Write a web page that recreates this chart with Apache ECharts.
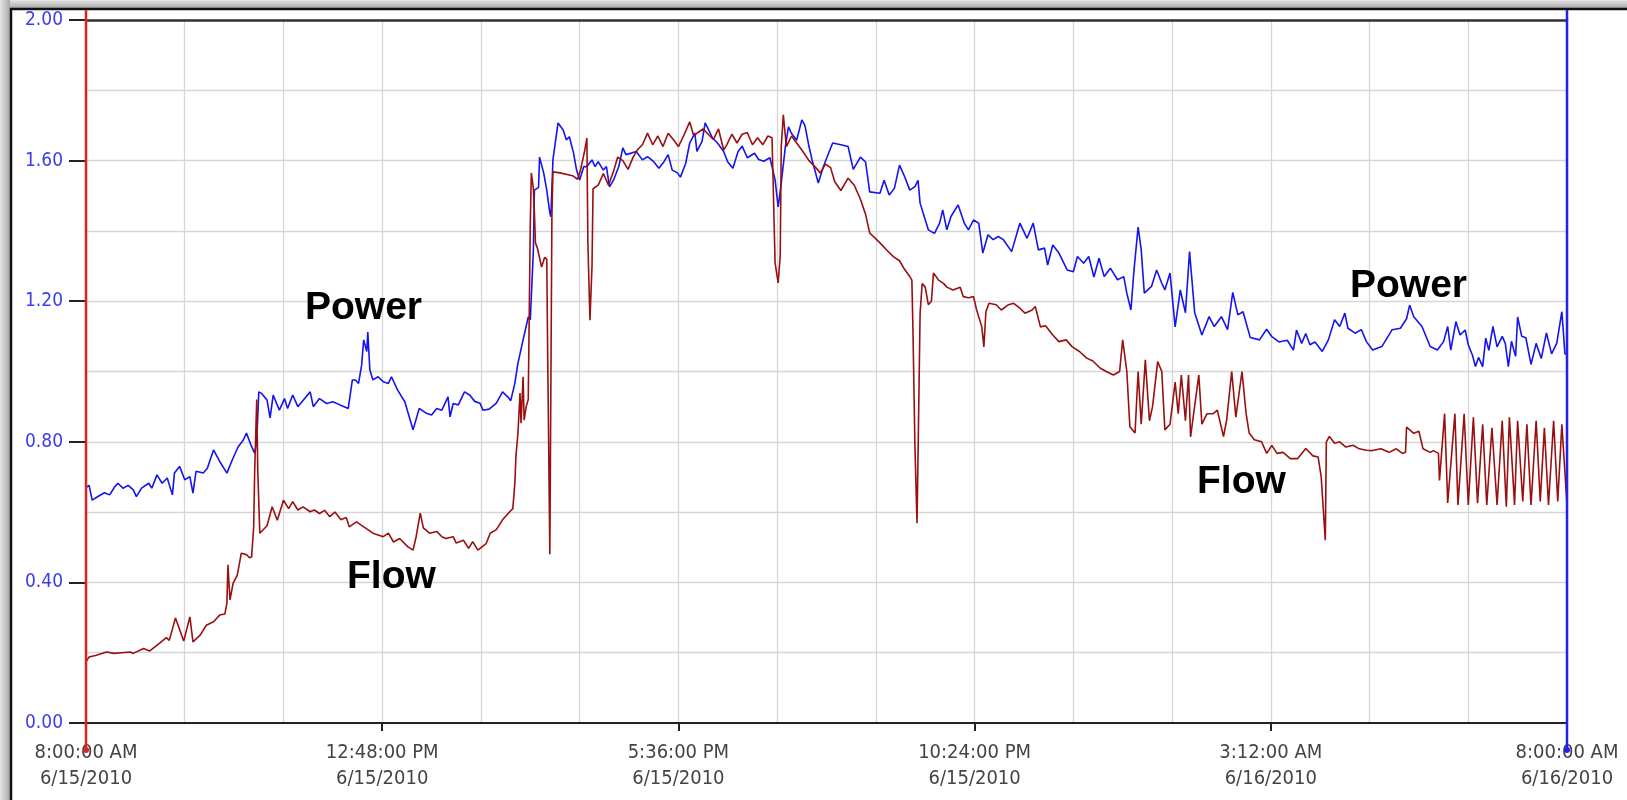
<!DOCTYPE html>
<html>
<head>
<meta charset="utf-8">
<script src="https://cdn.jsdelivr.net/npm/echarts@6/dist/echarts.min.js"></script>
<style>
html,body{margin:0;padding:0;background:#fff;}
#chart{width:1627px;height:800px;}
</style>
</head>
<body>
<div id="chart"></div>
<script>
// Time axis in minutes after 8:00:00 AM 6/15/2010 (0..1440)
const xTickLabels = ['8:00:00 AM\n6/15/2010','12:48:00 PM\n6/15/2010','5:36:00 PM\n6/15/2010','10:24:00 PM\n6/15/2010','3:12:00 AM\n6/16/2010','8:00:00 AM\n6/16/2010'];
const xTickStep = 288;
const seriesNames = ['Power','Flow'];

const powerData = [[0,0.67],[3,0.676],[6,0.634],[12,0.645],[18,0.655],[23,0.649],[28,0.672],[31,0.682],[36,0.668],[41,0.676],[46,0.663],[49,0.644],[54,0.668],[61,0.682],[64,0.668],[69,0.706],[74,0.682],[79,0.697],[84,0.649],[86,0.711],[91,0.730],[96,0.692],[101,0.701],[104,0.654],[107,0.716],[114,0.711],[118,0.725],[124,0.777],[130,0.744],[137,0.711],[143,0.754],[148,0.786],[153,0.805],[156,0.825],[161,0.786],[164,0.768],[166,0.80],[168,0.942],[171,0.937],[176,0.919],[179,0.868],[182,0.933],[188,0.890],[193,0.923],[196,0.895],[201,0.933],[206,0.900],[210,0.914],[218,0.942],[221,0.900],[227,0.923],[234,0.909],[240,0.914],[247,0.905],[255,0.895],[259,0.976],[262,0.976],[265,0.966],[268,1.018],[270,1.090],[273,1.057],[274,1.112],[276,1.005],[279,0.976],[284,0.985],[289,0.971],[294,0.966],[297,0.985],[303,0.947],[310,0.914],[318,0.834],[324,0.895],[331,0.881],[336,0.876],[341,0.895],[346,0.890],[352,0.928],[354,0.871],[357,0.909],[362,0.905],[368,0.942],[373,0.933],[378,0.915],[383,0.910],[386,0.890],[392,0.893],[399,0.910],[405,0.942],[410,0.928],[413,0.917],[417,0.967],[420,1.024],[425,1.090],[430,1.155],[432,1.147],[433,1.212],[435,1.346],[436,1.516],[440,1.524],[441,1.610],[445,1.565],[448,1.516],[451,1.451],[452,1.44],[454,1.602],[458,1.687],[459,1.707],[464,1.687],[467,1.659],[470,1.668],[474,1.622],[477,1.573],[480,1.545],[484,1.583],[487,1.583],[492,1.602],[495,1.583],[498,1.597],[503,1.573],[506,1.583],[509,1.525],[513,1.545],[518,1.583],[522,1.636],[525,1.617],[531,1.622],[535,1.626],[541,1.602],[546,1.611],[552,1.597],[557,1.578],[562,1.597],[566,1.617],[570,1.573],[575,1.565],[578,1.553],[583,1.591],[587,1.650],[592,1.678],[594,1.626],[599,1.655],[602,1.707],[605,1.69],[609,1.665],[614,1.650],[620,1.626],[624,1.596],[629,1.578],[634,1.626],[638,1.641],[643,1.608],[650,1.621],[654,1.603],[659,1.598],[665,1.608],[670,1.545],[673,1.468],[676,1.536],[680,1.640],[683,1.696],[686,1.677],[691,1.658],[696,1.716],[699,1.70],[703,1.640],[706,1.602],[712,1.536],[717,1.583],[722,1.621],[726,1.650],[734,1.645],[741,1.640],[746,1.575],[753,1.610],[758,1.596],[762,1.511],[772,1.507],[776,1.544],[781,1.502],[786,1.521],[791,1.587],[796,1.554],[801,1.516],[806,1.526],[809,1.544],[811,1.479],[819,1.403],[825,1.393],[830,1.422],[833,1.460],[837,1.403],[841,1.441],[848,1.474],[854,1.422],[858,1.403],[863,1.431],[868,1.422],[872,1.337],[877,1.389],[882,1.375],[887,1.384],[892,1.375],[900,1.341],[908,1.422],[915,1.379],[921,1.422],[926,1.346],[932,1.351],[935,1.303],[940,1.360],[946,1.337],[954,1.289],[960,1.284],[964,1.327],[970,1.308],[975,1.327],[980,1.269],[985,1.322],[990,1.270],[996,1.294],[1003,1.261],[1009,1.270],[1012,1.223],[1016,1.175],[1019,1.289],[1023,1.411],[1026,1.346],[1029,1.223],[1036,1.242],[1041,1.289],[1046,1.251],[1049,1.232],[1054,1.280],[1059,1.127],[1064,1.232],[1069,1.167],[1073,1.341],[1078,1.167],[1085,1.104],[1092,1.156],[1097,1.128],[1104,1.156],[1110,1.119],[1115,1.225],[1120,1.161],[1125,1.170],[1132,1.097],[1141,1.090],[1148,1.120],[1153,1.099],[1160,1.084],[1168,1.089],[1174,1.061],[1177,1.118],[1182,1.080],[1186,1.108],[1190,1.076],[1195,1.084],[1202,1.057],[1208,1.090],[1214,1.147],[1219,1.128],[1224,1.166],[1227,1.123],[1234,1.109],[1240,1.119],[1245,1.085],[1251,1.061],[1260,1.071],[1270,1.119],[1278,1.123],[1284,1.15],[1287,1.189],[1291,1.156],[1299,1.128],[1307,1.071],[1314,1.061],[1320,1.085],[1324,1.128],[1327,1.061],[1332,1.142],[1336,1.104],[1341,1.118],[1344,1.076],[1348,1.047],[1351,1.014],[1354,1.04],[1358,1.014],[1361,1.095],[1364,1.06],[1368,1.128],[1372,1.07],[1377,1.10],[1380,1.08],[1383,1.014],[1386,1.086],[1390,1.043],[1392,1.155],[1396,1.10],[1400,1.096],[1405,1.02],[1410,1.08],[1415,1.037],[1420,1.11],[1425,1.05],[1430,1.08],[1435,1.17],[1438,1.05],[1440,1.05]];

const flowData = [[0,0.174],[3,0.188],[10,0.193],[20,0.202],[27,0.198],[35,0.20],[43,0.202],[46,0.198],[56,0.212],[62,0.205],[72,0.228],[78,0.243],[81,0.235],[87,0.299],[95,0.233],[101,0.302],[104,0.231],[111,0.250],[117,0.278],[124,0.288],[130,0.307],[135,0.31],[137,0.341],[138,0.45],[140,0.350],[143,0.397],[147,0.42],[148,0.435],[151,0.483],[156,0.479],[159,0.47],[161,0.472],[163,0.555],[164,0.714],[166,0.92],[167,0.72],[169,0.54],[176,0.561],[181,0.615],[186,0.577],[192,0.634],[197,0.610],[201,0.63],[206,0.606],[211,0.615],[218,0.601],[222,0.606],[227,0.596],[232,0.605],[237,0.587],[242,0.6],[248,0.578],[253,0.585],[256,0.558],[263,0.572],[269,0.56],[279,0.540],[289,0.530],[294,0.54],[299,0.515],[305,0.525],[313,0.501],[318,0.492],[321,0.530],[325,0.597],[328,0.555],[334,0.540],[341,0.545],[346,0.53],[350,0.525],[357,0.53],[360,0.512],[367,0.52],[372,0.497],[376,0.516],[381,0.492],[389,0.51],[393,0.54],[399,0.55],[405,0.578],[412,0.601],[415,0.61],[417,0.683],[418,0.757],[420,0.825],[422,0.939],[423,0.853],[425,0.985],[426,0.862],[428,0.9],[430,0.92],[432,1.422],[433,1.565],[435,1.52],[436,1.45],[437,1.366],[439,1.35],[443,1.297],[446,1.325],[448,1.32],[449,1.024],[451,0.48],[453,1.44],[454,1.568],[461,1.565],[473,1.557],[478,1.547],[481,1.575],[485,1.630],[487,1.664],[488,1.366],[490,1.146],[492,1.30],[493,1.52],[498,1.53],[503,1.563],[508,1.53],[513,1.57],[517,1.61],[522,1.6],[527,1.575],[532,1.61],[536,1.63],[541,1.645],[546,1.678],[551,1.645],[556,1.67],[561,1.64],[566,1.678],[571,1.66],[576,1.64],[581,1.67],[587,1.71],[591,1.67],[595,1.68],[600,1.69],[605,1.675],[610,1.66],[615,1.69],[620,1.63],[623,1.645],[628,1.675],[633,1.65],[638,1.675],[643,1.68],[648,1.645],[653,1.665],[658,1.645],[663,1.67],[667,1.665],[668,1.553],[670,1.309],[673,1.252],[675,1.33],[676,1.64],[678,1.73],[681,1.64],[686,1.67],[691,1.65],[696,1.63],[703,1.60],[708,1.585],[714,1.565],[719,1.59],[724,1.58],[728,1.54],[734,1.515],[741,1.55],[747,1.53],[753,1.49],[758,1.447],[762,1.394],[767,1.38],[772,1.366],[778,1.347],[785,1.327],[791,1.315],[796,1.29],[801,1.27],[803,1.26],[804,1.127],[806,0.786],[808,0.568],[809,0.76],[811,1.165],[813,1.25],[816,1.24],[819,1.19],[822,1.20],[824,1.28],[829,1.26],[834,1.25],[837,1.24],[843,1.232],[850,1.24],[853,1.213],[858,1.21],[863,1.213],[866,1.175],[871,1.127],[873,1.07],[875,1.17],[878,1.194],[885,1.19],[890,1.175],[897,1.19],[902,1.194],[908,1.18],[913,1.166],[920,1.175],[923,1.185],[928,1.127],[933,1.13],[940,1.104],[946,1.085],[953,1.09],[959,1.07],[966,1.057],[973,1.038],[979,1.03],[986,1.01],[992,1.0],[999,0.99],[1005,1.0],[1008,1.09],[1012,1.0],[1015,0.843],[1020,0.825],[1023,1.0],[1026,0.85],[1030,1.033],[1034,0.86],[1037,0.9],[1042,1.028],[1046,1.0],[1049,0.834],[1054,0.85],[1059,0.97],[1062,0.88],[1065,0.99],[1069,0.86],[1072,0.99],[1074,0.814],[1077,0.88],[1082,0.99],[1085,0.85],[1090,0.88],[1096,0.88],[1100,0.89],[1106,0.815],[1109,0.86],[1114,1.0],[1118,0.87],[1124,1.0],[1128,0.88],[1131,0.825],[1136,0.806],[1143,0.80],[1148,0.767],[1153,0.79],[1158,0.767],[1164,0.77],[1171,0.752],[1178,0.752],[1186,0.781],[1193,0.76],[1198,0.757],[1201,0.70],[1205,0.52],[1206,0.80],[1209,0.815],[1214,0.796],[1219,0.80],[1225,0.785],[1232,0.79],[1238,0.78],[1245,0.776],[1251,0.775],[1259,0.78],[1267,0.77],[1274,0.78],[1280,0.767],[1283,0.77],[1284,0.842],[1291,0.824],[1296,0.83],[1300,0.78],[1307,0.77],[1310,0.775],[1315,0.767],[1316,0.69],[1321,0.88],[1324,0.626],[1331,0.88],[1334,0.62],[1340,0.88],[1344,0.62],[1349,0.87],[1353,0.625],[1358,0.85],[1362,0.62],[1367,0.84],[1372,0.62],[1377,0.86],[1381,0.615],[1384,0.87],[1389,0.62],[1392,0.86],[1397,0.63],[1401,0.85],[1405,0.62],[1410,0.86],[1414,0.63],[1418,0.84],[1422,0.62],[1427,0.86],[1431,0.63],[1435,0.85],[1440,0.62]];

const labelFont = "'DejaVu Sans Condensed','Liberation Sans',sans-serif";
const gridColor = '#d6d6d6';

const chart = echarts.init(document.getElementById('chart'), null, {renderer:'canvas'});
const option = {
  animation: false,
  backgroundColor: '#ffffff',
  grid: {left: 86, right: 60, top: 20, bottom: 77, containLabel: false},
  xAxis: [{
    type: 'value', min: 0, max: 1440, interval: xTickStep, position: 'bottom',
    axisLine: {show: true, onZero: false, lineStyle: {color: '#222', width: 2}},
    axisTick: {show: true, length: 8, lineStyle: {color: '#222', width: 2}},
    axisLabel: {
      show: true, margin: 17, color: '#444', fontSize: 20, fontFamily: labelFont, lineHeight: 26,
      formatter: v => xTickLabels[Math.round(v / xTickStep)] || ''
    },
    splitLine: {show: true, lineStyle: {color: gridColor, width: 1.3}},
    minorTick: {show: false, splitNumber: 3},
    minorSplitLine: {show: true, lineStyle: {color: gridColor, width: 1.3}}
  },{
    type: 'value', min: 0, max: 1440, position: 'top',
    axisLine: {show: true, onZero: false, lineStyle: {color: '#333', width: 2.5}},
    axisTick: {show: false}, axisLabel: {show: false}, splitLine: {show: false}
  }],
  yAxis: {
    type: 'value', min: 0, max: 2, interval: 0.4,
    axisLine: {show: false},
    axisTick: {show: true, length: 17, lineStyle: {color: '#222', width: 2}},
    axisLabel: {show: true, margin: 23, color: '#3c3cf0', fontSize: 19, fontFamily: labelFont,
      formatter: v => v.toFixed(2)},
    splitLine: {show: true, lineStyle: {color: gridColor, width: 1.3}},
    minorTick: {show: false, splitNumber: 2},
    minorSplitLine: {show: true, lineStyle: {color: gridColor, width: 1.3}}
  },
  series: [{
    name: seriesNames[0], type: 'line', data: powerData, showSymbol: false, z: 3,
    lineStyle: {color: '#1414f0', width: 1.6}
  },{
    name: seriesNames[1], type: 'line', data: flowData, showSymbol: false, z: 4,
    lineStyle: {color: '#9a0f0f', width: 1.6}
  }]
};
chart.setOption(option);

// Frame, axis markers and annotations
const xL = chart.convertToPixel({xAxisIndex: 0}, 0);
const xR = chart.convertToPixel({xAxisIndex: 0}, 1440);
const y0 = chart.convertToPixel({yAxisIndex: 0}, 0);
const markerBottom = y0 + 27;
const annFont = "bold 39px 'Liberation Sans', Arial, sans-serif";
chart.setOption({
  graphic: [
    {type:'rect', shape:{x:0,y:0,width:1627,height:8}, style:{fill:{type:'linear',x:0,y:0,x2:0,y2:1,colorStops:[{offset:0,color:'#e6e6e6'},{offset:1,color:'#a8a8a8'}]}}, z:1},
    {type:'rect', shape:{x:0,y:0,width:10,height:800}, style:{fill:{type:'linear',x:0,y:0,x2:1,y2:0,colorStops:[{offset:0,color:'#e6e6e6'},{offset:1,color:'#a8a8a8'}]}}, z:1},
    {type:'line', shape:{x1:10,y1:9,x2:1627,y2:9}, style:{stroke:'#111',lineWidth:2.5}, z:2},
    {type:'line', shape:{x1:11,y1:8,x2:11,y2:800}, style:{stroke:'#111',lineWidth:2.5}, z:2},
    {type:'line', shape:{x1:xL,y1:10,x2:xL,y2:markerBottom}, style:{stroke:'#dd2222',lineWidth:2.5}, z:50},
    {type:'circle', shape:{cx:xL,cy:markerBottom,r:3}, style:{fill:'#dd2222'}, z:50},
    {type:'line', shape:{x1:xR,y1:10,x2:xR,y2:markerBottom}, style:{stroke:'#2222ee',lineWidth:2.5}, z:50},
    {type:'circle', shape:{cx:xR,cy:markerBottom,r:3}, style:{fill:'#2222ee'}, z:50},
    {type:'text', left:305, top:289, style:{text:seriesNames[0], font:annFont, fill:'#000'}, z:60},
    {type:'text', left:347, top:558, style:{text:seriesNames[1], font:annFont, fill:'#000'}, z:60},
    {type:'text', left:1350, top:267, style:{text:seriesNames[0], font:annFont, fill:'#000'}, z:60},
    {type:'text', left:1197, top:463, style:{text:seriesNames[1], font:annFont, fill:'#000'}, z:60}
  ]
});
</script>
</body>
</html>
